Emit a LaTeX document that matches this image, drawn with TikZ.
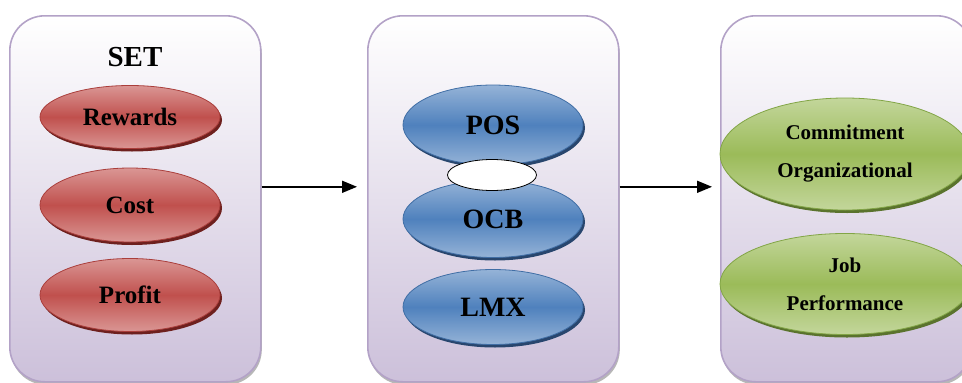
\documentclass[tikz,border=0pt]{standalone}
\usepackage{fontspec}
\setmainfont{Liberation Serif}
\usetikzlibrary{shapes.geometric,shadows,arrows.meta}
\definecolor{redM}{RGB}{192,80,77}
\definecolor{redL}{RGB}{218,150,148}
\definecolor{redB}{RGB}{170,62,59}
\definecolor{redS}{RGB}{110,32,30}
\definecolor{bluM}{RGB}{79,129,189}
\definecolor{bluL}{RGB}{149,179,215}
\definecolor{bluB}{RGB}{64,110,165}
\definecolor{bluS}{RGB}{40,70,110}
\definecolor{grnM}{RGB}{155,187,89}
\definecolor{grnL}{RGB}{195,214,155}
\definecolor{grnB}{RGB}{130,165,70}
\definecolor{grnS}{RGB}{90,115,45}
\definecolor{panB}{RGB}{179,162,199}
\definecolor{panL}{RGB}{204,192,218}
\tikzset{
  panel/.style={draw=panB, line width=1.6pt, rounded corners=35pt,
    top color=white, bottom color=panL, minimum width=251pt, minimum height=366pt,
    inner sep=0pt, anchor=north west,
    drop shadow={shadow xshift=1pt, shadow yshift=-3pt, fill=gray!80, opacity=0.7}},
  egg/.style={ellipse, inner sep=0pt, font=\bfseries, text=black, line width=0.8pt},
  redegg/.style={egg, draw=redB, top color=redL, bottom color=redL, middle color=redM,
    drop shadow={shadow xshift=2pt, shadow yshift=-3pt, fill=redS, opacity=1},
    minimum width=180pt, font=\bfseries\fontsize{25}{30}\selectfont},
  bluegg/.style={egg, draw=bluB, top color=bluL, bottom color=bluL, middle color=bluM,
    drop shadow={shadow xshift=2pt, shadow yshift=-3pt, fill=bluS, opacity=1},
    minimum width=180pt, font=\bfseries\fontsize{28}{32}\selectfont},
  grnegg/.style={egg, draw=grnB, top color=grnL, bottom color=grnL, middle color=grnM,
    drop shadow={shadow xshift=2pt, shadow yshift=-3pt, fill=grnS, opacity=1},
    minimum width=250pt, font=\bfseries\fontsize{21}{38}\selectfont, align=center},
  link/.style={line width=1.6pt, -{Triangle[length=15pt,width=12pt]}}
}
\begin{document}
\begin{tikzpicture}[x=1pt,y=-1pt]
\useasboundingbox (0,0) rectangle (962,383);
\clip (0,0) rectangle (962,383);
\node[panel] (p1) at (9,15) {};
\node[panel] (p2) at (367,15) {};
\node[panel] (p3) at (720,15) {};

\node[font=\bfseries\fontsize{29}{34}\selectfont] (set) at (135,57) {SET};
\node[redegg, minimum height=63pt] (rew) at (130,117) {Rewards};
\node[redegg, minimum height=74pt] (cost) at (130,205) {Cost};
\node[redegg, minimum height=73pt] (prof) at (130,295) {Profit};

\node[bluegg, minimum height=80pt] (pos) at (493,125) {POS};
\node[bluegg, minimum height=77pt] (ocb) at (493,219) {OCB};
\node[bluegg, minimum height=75pt] (lmx) at (493,307) {LMX};
\node[ellipse, draw=black, fill=white, line width=0.8pt, minimum width=89pt, minimum height=31pt, inner sep=0pt] (gap) at (492,175) {};

\node[grnegg, minimum height=112pt] (com) at (845,154) {Commitment\\[0pt]Organizational};
\node[grnegg, minimum height=101pt] (job) at (845,284) {Job\\[0pt]Performance};

\draw[link, shorten >=10pt] ([yshift=12pt]p1.east) -- ([yshift=12pt]p2.west);
\draw[link, shorten >=8pt] ([yshift=12pt]p2.east) -- ([yshift=12pt]p3.west);
\end{tikzpicture}
\end{document}
